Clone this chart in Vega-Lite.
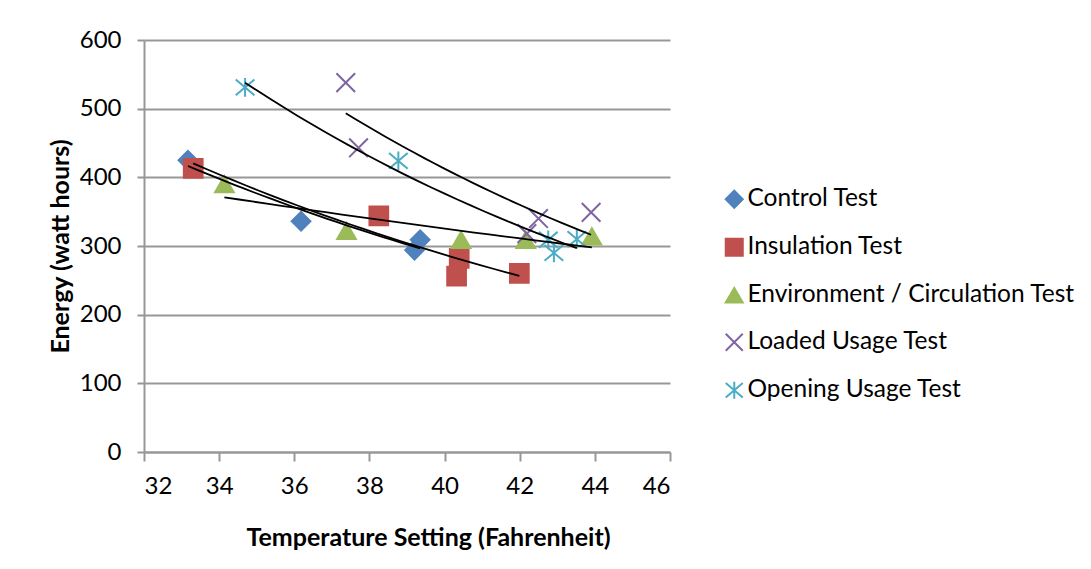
{
  "$schema": "https://vega.github.io/schema/vega-lite/v6.json",
  "width": 526,
  "height": 412,
  "autosize": {"type": "none"},
  "padding": {"left": 144, "top": 40, "right": 421, "bottom": 117},
  "background": "white",
  "config": {
    "font": "Lato",
    "view": {"stroke": null},
    "axis": {
      "labelFont": "Lato",
      "labelFontSize": 24,
      "labelColor": "#000000",
      "titleFont": "Lato",
      "titleFontSize": 25,
      "titleFontWeight": "bold",
      "titleColor": "#000000",
      "domainColor": "#979797",
      "domainWidth": 2,
      "tickColor": "#979797",
      "tickWidth": 2,
      "gridColor": "#979797",
      "gridWidth": 2
    }
  },
  "data": {
    "values": [
      {"series": "Control Test", "temp": 33.17, "energy": 425},
      {"series": "Control Test", "temp": 36.18, "energy": 336},
      {"series": "Control Test", "temp": 39.35, "energy": 309},
      {"series": "Control Test", "temp": 39.2, "energy": 294},
      {"series": "Insulation Test", "temp": 33.31, "energy": 413},
      {"series": "Insulation Test", "temp": 38.25, "energy": 344},
      {"series": "Insulation Test", "temp": 40.39, "energy": 282},
      {"series": "Insulation Test", "temp": 40.32, "energy": 256},
      {"series": "Insulation Test", "temp": 41.99, "energy": 260},
      {"series": "Environment / Circulation Test", "temp": 34.14, "energy": 390},
      {"series": "Environment / Circulation Test", "temp": 37.39, "energy": 322},
      {"series": "Environment / Circulation Test", "temp": 40.44, "energy": 309},
      {"series": "Environment / Circulation Test", "temp": 42.16, "energy": 309},
      {"series": "Environment / Circulation Test", "temp": 43.92, "energy": 314},
      {"series": "Loaded Usage Test", "temp": 37.37, "energy": 538},
      {"series": "Loaded Usage Test", "temp": 37.71, "energy": 443},
      {"series": "Loaded Usage Test", "temp": 42.19, "energy": 318},
      {"series": "Loaded Usage Test", "temp": 42.5, "energy": 340},
      {"series": "Loaded Usage Test", "temp": 43.9, "energy": 349},
      {"series": "Opening Usage Test", "temp": 34.69, "energy": 531},
      {"series": "Opening Usage Test", "temp": 38.77, "energy": 424},
      {"series": "Opening Usage Test", "temp": 42.76, "energy": 309},
      {"series": "Opening Usage Test", "temp": 42.91, "energy": 290},
      {"series": "Opening Usage Test", "temp": 43.52, "energy": 310}
    ]
  },
  "layer": [
    {
      "mark": {"type": "point", "filled": true, "size": 350, "strokeWidth": 2, "opacity": 1},
      "encoding": {
        "x": {
          "field": "temp", "type": "quantitative",
          "scale": {"domain": [32, 46], "nice": false, "zero": false},
          "axis": {
            "values": [32, 34, 36, 38, 40, 42, 44, 46],
            "grid": false,
            "tickSize": 9,
            "labelPadding": 13,
            "title": "Temperature Setting (Fahrenheit)",
            "titleX": 284,
            "titleY": 85,
            "titleBaseline": "middle",
            "titleAlign": "center"
          }
        },
        "y": {
          "field": "energy", "type": "quantitative",
          "scale": {"domain": [0, 600], "nice": false},
          "axis": {
            "values": [0, 100, 200, 300, 400, 500, 600],
            "grid": true,
            "tickSize": 7,
            "labelPadding": 16,
            "title": "Energy (watt hours)",
            "titleX": -84,
            "titleY": 206,
            "titleAngle": -90,
            "titleBaseline": "middle",
            "titleAlign": "center"
          }
        },
        "color": {
          "field": "series", "type": "nominal",
          "scale": {
            "domain": ["Control Test", "Insulation Test", "Environment / Circulation Test", "Loaded Usage Test", "Opening Usage Test"],
            "range": ["#4F81BD", "#C0504D", "#9BBB59", "#8064A2", "#4BACC6"]
          },
          "legend": {
            "title": null,
            "orient": "none",
            "legendX": 578,
            "legendY": 147,
            "labelFont": "Lato",
            "labelFontSize": 24.5,
            "labelColor": "#000000",
            "labelOffset": 1,
            "symbolSize": 290,
            "symbolStrokeWidth": 2,
            "rowPadding": 22,
            "labelLimit": 400
          }
        },
        "stroke": {
          "field": "series", "type": "nominal",
          "scale": {
            "domain": ["Control Test", "Insulation Test", "Environment / Circulation Test", "Loaded Usage Test", "Opening Usage Test"],
            "range": ["#4F81BD", "#C0504D", "#9BBB59", "#8064A2", "#4BACC6"]
          },
          "legend": null
        },
        "shape": {
          "field": "series", "type": "nominal",
          "scale": {
            "domain": ["Control Test", "Insulation Test", "Environment / Circulation Test", "Loaded Usage Test", "Opening Usage Test"],
            "range": ["diamond", "square", "triangle-up", "M-1,-1L1,1M1,-1L-1,1", "M-1,-0.85L1,0.85M1,-0.85L-1,0.85M0,-1L0,1"]
          },
          "legend": null
        }
      }
    },
    {
      "transform": [
        {"regression": "energy", "on": "temp", "groupby": ["series"], "method": "exp"}
      ],
      "mark": {"type": "line", "color": "#000000", "strokeWidth": 1.8},
      "encoding": {
        "x": {"field": "temp", "type": "quantitative"},
        "y": {"field": "energy", "type": "quantitative"},
        "detail": {"field": "series", "type": "nominal"}
      }
    }
  ]
}
